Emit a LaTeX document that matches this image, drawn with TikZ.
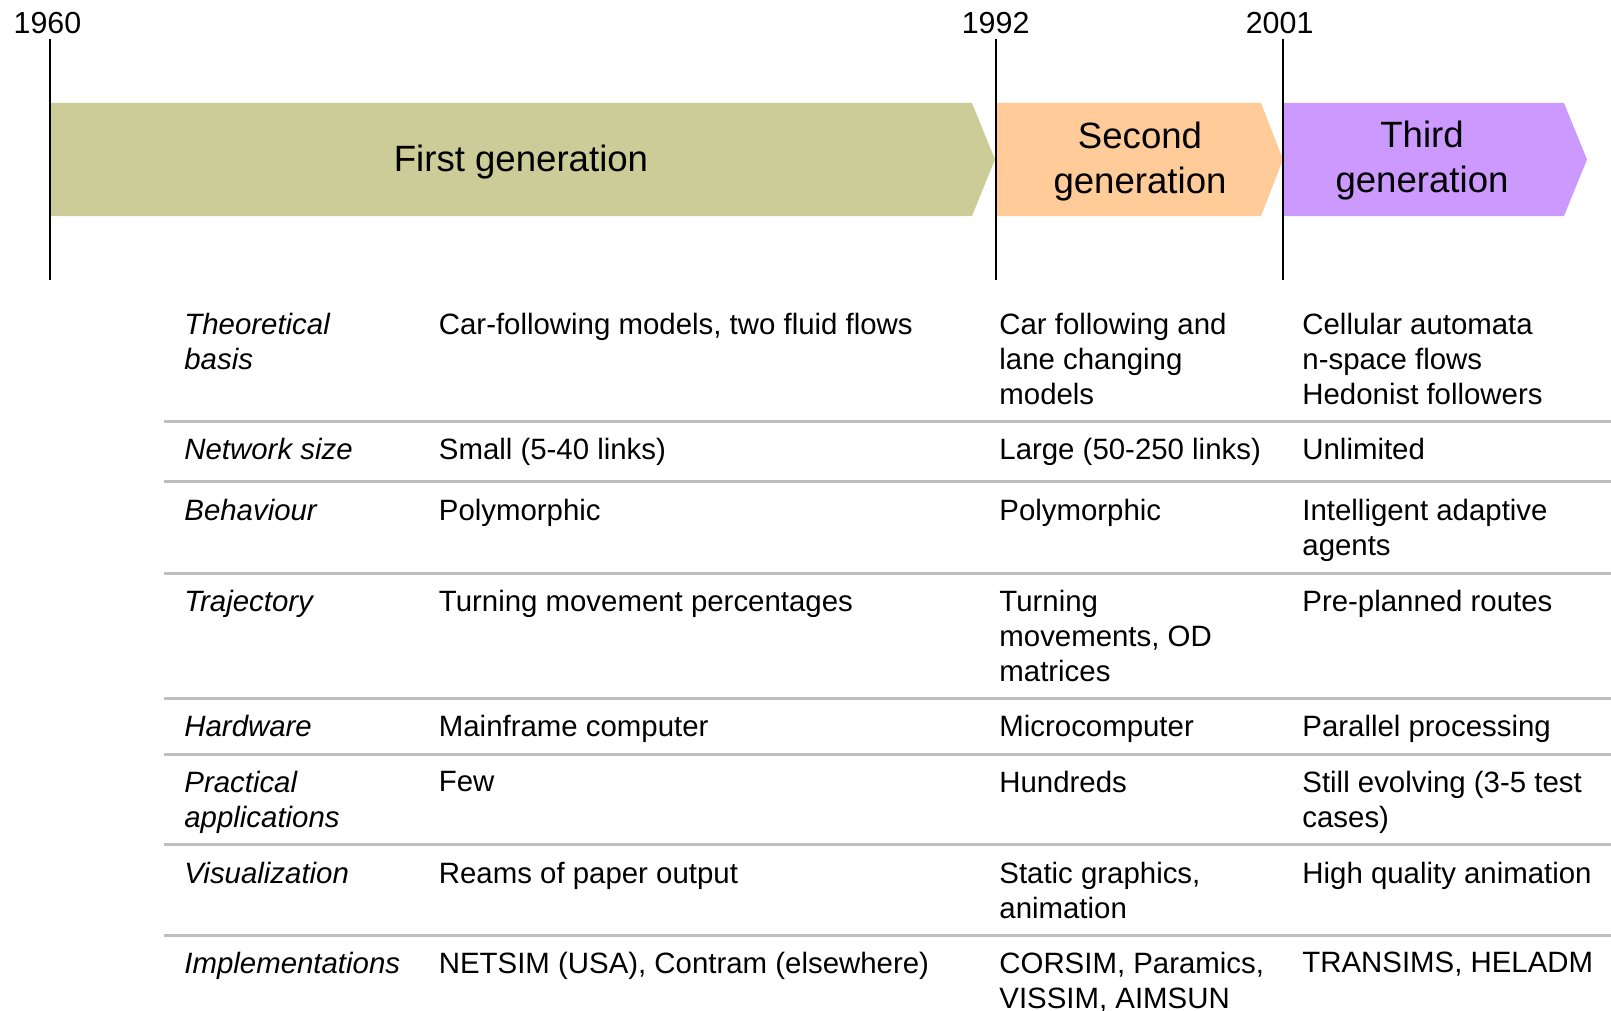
\documentclass[tikz,border=0pt]{standalone}
\usepackage{fontspec}
\setmainfont{Liberation Sans}
\usepackage{tikz}
\definecolor{firstgen}{RGB}{204,204,153}
\definecolor{secondgen}{RGB}{255,204,153}
\definecolor{thirdgen}{RGB}{204,153,255}
\definecolor{rulegray}{RGB}{190,190,190}
\tikzset{
    year/.style={inner sep=0, anchor=base, font=\fontsize{15.2}{18}\selectfont}, % years above the time line
    tick/.style={line width=0.8pt, black}, % vertical year marks
    gen/.style={inner sep=0, align=center, font=\fontsize{18.3}{22.5}\selectfont}, % text in the arrows
    head/.style={inner sep=0, anchor=north west, align=left, font=\fontsize{14.7}{17.5}\selectfont\itshape}, % row headings
    cell/.style={inner sep=0, anchor=north west, align=left, font=\fontsize{14.7}{17.5}\selectfont}, % table entries
    rule/.style={line width=1.5pt, rulegray} % row separators
}

\begin{document}
\begin{tikzpicture}[x=0.5pt, y=-0.5pt]
          \useasboundingbox (0, 0) rectangle (1611, 1011);

          % generation arrows
          \fill[firstgen] (50, 103) -- (972, 103) -- (995, 159.5) -- (972, 216) -- (50, 216) -- cycle;
          \fill[secondgen] (996, 103) -- (1261, 103) -- (1283, 159.5) -- (1261, 216) -- (996, 216) -- cycle;
          \fill[thirdgen] (1283, 103) -- (1564, 103) -- (1587, 159.5) -- (1564, 216) -- (1283, 216) -- cycle;
          \node[gen, anchor=base] (first) at (521, 171.7) {First generation};
          \node[gen, anchor=north] (second) at (1140, 122) {Second\\generation};
          \node[gen, anchor=north] (third) at (1422, 121) {Third\\generation};

          % years
          \node[year] (y1960) at (47.5, 33.3) {1960};
          \node[year] (y1992) at (995.6, 33.3) {1992};
          \node[year] (y2001) at (1279.6, 33.3) {2001};
          \coordinate (top1960) at (50, 39);
          \coordinate (bot1960) at (50, 280);
          \coordinate (top1992) at (996, 39);
          \coordinate (bot1992) at (996, 280);
          \coordinate (top2001) at (1283, 39);
          \coordinate (bot2001) at (1283, 280);
          \draw[tick] (top1960) to (bot1960);
          \draw[tick] (top1992) to (bot1992);
          \draw[tick] (top2001) to (bot2001);

          % table
          \node[head] (basis) at (184, 312.6) {Theoretical\\basis};
          \node[cell] (basis1) at (438.5, 312.6) {Car-following models, two fluid flows};
          \node[cell] (basis2) at (999, 312.6) {Car following and\\lane changing\\models};
          \node[cell] (basis3) at (1302, 312.6) {Cellular automata\\n-space flows\\Hedonist followers};
          \draw[rule] (164, 421) -- (1611, 421);

          \node[head] (size) at (184, 438.1) {Network size};
          \node[cell] (size1) at (438.5, 438.1) {Small (5-40 links)};
          \node[cell] (size2) at (999, 438.1) {Large (50-250 links)};
          \node[cell] (size3) at (1302, 438.1) {Unlimited};
          \draw[rule] (164, 481.5) -- (1611, 481.5);

          \node[head] (behav) at (184, 498.6) {Behaviour};
          \node[cell] (behav1) at (438.5, 498.6) {Polymorphic};
          \node[cell] (behav2) at (999, 498.6) {Polymorphic};
          \node[cell] (behav3) at (1302, 498.6) {Intelligent adaptive\\agents};
          \draw[rule] (164, 573.3) -- (1611, 573.3);

          \node[head] (traj) at (184, 590.1) {Trajectory};
          \node[cell] (traj1) at (438.5, 590.1) {Turning movement percentages};
          \node[cell] (traj2) at (999, 590.1) {Turning\\movements, OD\\matrices};
          \node[cell] (traj3) at (1302, 590.1) {Pre-planned routes};
          \draw[rule] (164, 698.3) -- (1611, 698.3);

          \node[head] (hard) at (184, 714.6) {Hardware};
          \node[cell] (hard1) at (438.5, 714.6) {Mainframe computer};
          \node[cell] (hard2) at (999, 714.6) {Microcomputer};
          \node[cell] (hard3) at (1302, 714.6) {Parallel processing};
          \draw[rule] (164, 754) -- (1611, 754);

          \node[head] (appl) at (184, 771) {Practical\\applications};
          \node[cell] (appl1) at (438.5, 771) {Few};
          \node[cell] (appl2) at (999, 771) {Hundreds};
          \node[cell] (appl3) at (1302, 771) {Still evolving (3-5 test\\cases)};
          \draw[rule] (164, 844.3) -- (1611, 844.3);

          \node[head] (visu) at (184, 861.4) {Visualization};
          \node[cell] (visu1) at (438.5, 861.4) {Reams of paper output};
          \node[cell] (visu2) at (999, 861.4) {Static graphics,\\animation};
          \node[cell] (visu3) at (1302, 861.4) {High quality animation};
          \draw[rule] (164, 935) -- (1611, 935);

          \node[head] (impl) at (184, 951.8) {Implementations};
          \node[cell] (impl1) at (438.5, 951.8) {NETSIM (USA), Contram (elsewhere)};
          \node[cell] (impl2) at (999, 951.8) {CORSIM, Paramics,\\VISSIM, AIMSUN};
          \node[cell] (impl3) at (1302, 951.8) {TRANSIMS, HELADM};
        \end{tikzpicture}
\end{document}
